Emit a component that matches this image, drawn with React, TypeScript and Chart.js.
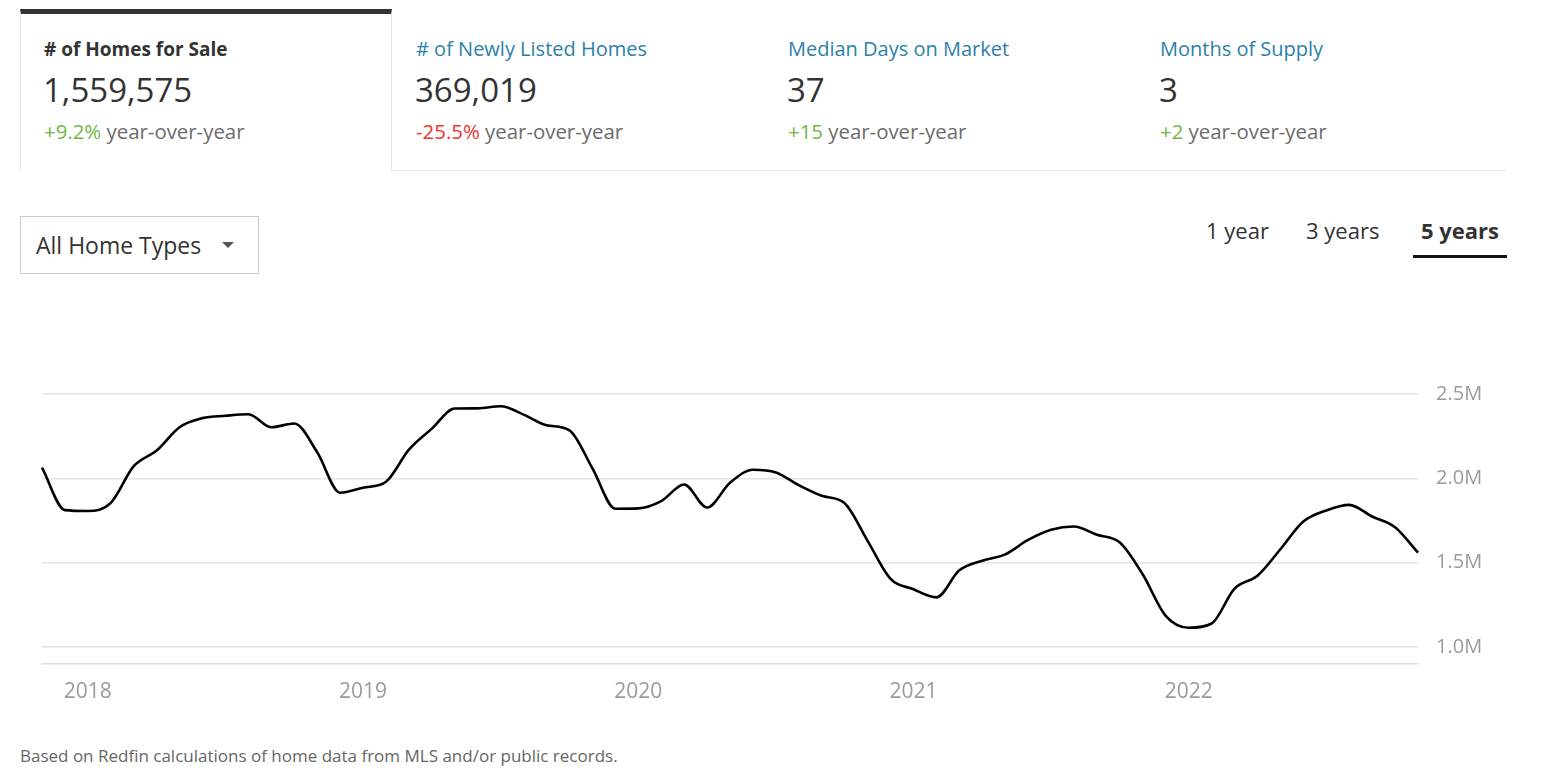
import React, { useEffect, useRef } from "react";
import { Chart, registerables } from "chart.js";

Chart.register(...registerables);

// ---- data ----
const months: string[] = [
  "2017-11", "2017-12",
  "2018-01", "2018-02", "2018-03", "2018-04", "2018-05", "2018-06", "2018-07", "2018-08", "2018-09", "2018-10", "2018-11", "2018-12",
  "2019-01", "2019-02", "2019-03", "2019-04", "2019-05", "2019-06", "2019-07", "2019-08", "2019-09", "2019-10", "2019-11", "2019-12",
  "2020-01", "2020-02", "2020-03", "2020-04", "2020-05", "2020-06", "2020-07", "2020-08", "2020-09", "2020-10", "2020-11", "2020-12",
  "2021-01", "2021-02", "2021-03", "2021-04", "2021-05", "2021-06", "2021-07", "2021-08", "2021-09", "2021-10", "2021-11", "2021-12",
  "2022-01", "2022-02", "2022-03", "2022-04", "2022-05", "2022-06", "2022-07", "2022-08", "2022-09", "2022-10", "2022-11",
];

const homesForSale: number[] = [
  2063000, 1812000, 1807000, 1855000, 2072000, 2165000, 2303000, 2357000, 2371000, 2380000,
  2303000, 2325000, 2155000, 1915000, 1945000, 1980000, 2170000, 2295000, 2414000, 2415000,
  2427000, 2378000, 2315000, 2285000, 2060000, 1820000, 1822000, 1865000, 1964000, 1827000,
  1974000, 2051000, 2035000, 1960000, 1897000, 1853000, 1630000, 1405000, 1343000, 1295000,
  1455000, 1512000, 1550000, 1635000, 1695000, 1715000, 1666000, 1620000, 1430000, 1185000,
  1115000, 1140000, 1347000, 1423000, 1580000, 1744000, 1810000, 1843000, 1774000, 1710000,
  1559575,
];

const yTickValues: number[] = [1000000, 1500000, 2000000, 2500000];

const tabTitles: string[] = ["# of Homes for Sale", "# of Newly Listed Homes", "Median Days on Market", "Months of Supply"];
const tabValues: string[] = ["1,559,575", "369,019", "37", "3"];
const tabChanges: string[] = ["+9.2%", "-25.5%", "+15", "+2"];
const tabChangeUp: boolean[] = [true, false, true, true];

const periods: string[] = ["1 year", "3 years", "5 years"];

const FONT = "'Open Sans', 'Liberation Sans', sans-serif";

function LineChart() {
  const ref = useRef<HTMLCanvasElement | null>(null);
  useEffect(() => {
    if (!ref.current) return;
    const chart = new Chart(ref.current, {
      type: "line",
      data: {
        labels: months,
        datasets: [
          {
            data: homesForSale,
            borderColor: "#000000",
            borderWidth: 2.6,
            pointRadius: 0,
            pointHoverRadius: 0,
            fill: false,
            cubicInterpolationMode: "monotone",
          },
        ],
      },
      options: {
        animation: false,
        responsive: true,
        maintainAspectRatio: false,
        layout: { padding: { top: 10, left: 0, right: 0, bottom: 0 } },
        plugins: { legend: { display: false }, tooltip: { enabled: false } },
        scales: {
          x: {
            type: "category",
            offset: false,
            grid: { display: false, drawTicks: false },
            border: { display: true, color: "#e0e0e0", width: 1.5 },
            ticks: {
              autoSkip: false,
              maxRotation: 0,
              minRotation: 0,
              padding: 15,
              color: "#9a9a9a",
              font: { family: FONT, size: 21 },
              callback: (_v: any, i: number) => {
                const l = months[i];
                return l.endsWith("-01") ? l.slice(0, 4) : "";
              },
            },
            afterFit: (s: any) => {
              s.height = 48;
            },
          },
          y: {
            position: "right",
            min: 900000,
            max: 2500000,
            afterBuildTicks: (s: any) => {
              s.ticks = yTickValues.map((v) => ({ value: v }));
            },
            grid: { color: "#e3e3e3", lineWidth: 1.5, drawTicks: false },
            border: { display: false },
            ticks: {
              padding: 18,
              color: "#9a9a9a",
              font: { family: FONT, size: 20 },
              callback: (v: any) => (Number(v) / 1000000).toFixed(1) + "M",
            },
            afterFit: (s: any) => {
              s.width = 102;
            },
          },
        },
      } as any,
    });
    return () => chart.destroy();
  }, []);
  return <canvas ref={ref} />;
}

export default function App() {
  return (
    <div
      style={{
        position: "absolute",
        left: 0,
        top: 0,
        width: 1558,
        height: 771,
        background: "#fff",
        fontFamily: FONT,
        overflow: "hidden",
        color: "#333",
      }}
    >
      {/* active tab box */}
      <div
        style={{
          position: "absolute",
          left: 20,
          top: 9,
          width: 372,
          height: 162,
          boxSizing: "border-box",
          borderTop: "5px solid #333",
          borderLeft: "1px solid #e4e4e4",
          borderRight: "1px solid #e4e4e4",
        }}
      />
      <div style={{ position: "absolute", left: 391, top: 170, width: 1115, height: 1, background: "#e4e4e4" }} />

      {tabTitles.map((t, i) => (
        <React.Fragment key={t}>
          <div
            style={{
              position: "absolute",
              left: 44 + 372 * i,
              top: 39,
              fontSize: i === 0 ? 19 : 20,
              lineHeight: "20px",
              whiteSpace: "nowrap",
              fontWeight: i === 0 ? 700 : 400,
              color: i === 0 ? "#333" : "#2b7fab",
            }}
          >
            {t}
          </div>
          <div
            style={{
              position: "absolute",
              left: 43 + 372 * i,
              top: 73,
              fontSize: 33,
              lineHeight: "33px",
              whiteSpace: "nowrap",
              color: "#333",
            }}
          >
            {tabValues[i]}
          </div>
          <div
            style={{
              position: "absolute",
              left: 44 + 372 * i,
              top: 121,
              fontSize: 20.4,
              lineHeight: "21px",
              whiteSpace: "nowrap",
              color: "#6b6b6b",
            }}
          >
            <span style={{ color: tabChangeUp[i] ? "#71b545" : "#f2342c" }}>{tabChanges[i]}</span> year-over-year
          </div>
        </React.Fragment>
      ))}

      {/* dropdown */}
      <div
        style={{
          position: "absolute",
          left: 20,
          top: 216,
          width: 239,
          height: 58,
          boxSizing: "border-box",
          border: "1px solid #cccccc",
        }}
      />
      <div
        style={{
          position: "absolute",
          left: 36,
          top: 234,
          fontSize: 23,
          lineHeight: "23px",
          whiteSpace: "nowrap",
          color: "#333",
        }}
      >
        All Home Types
      </div>
      <div
        style={{
          position: "absolute",
          left: 222,
          top: 242,
          width: 0,
          height: 0,
          borderLeft: "6px solid transparent",
          borderRight: "6px solid transparent",
          borderTop: "6px solid #555",
        }}
      />

      {/* period selector */}
      {periods.map((p, i) => (
        <div
          key={p}
          style={{
            position: "absolute",
            left: [1206, 1306, 1421][i],
            top: 219,
            fontSize: 22,
            lineHeight: "22px",
            whiteSpace: "nowrap",
            fontWeight: i === 2 ? 700 : 400,
            color: "#333",
          }}
        >
          {p}
        </div>
      ))}
      <div style={{ position: "absolute", left: 1413, top: 255, width: 94, height: 3, background: "#111" }} />

      {/* chart */}
      <div style={{ position: "absolute", left: 27, top: 364, width: 1493, height: 348 }}>
        <LineChart />
      </div>

      {/* footer */}
      <div
        style={{
          position: "absolute",
          left: 20,
          top: 747,
          fontSize: 17,
          lineHeight: "17px",
          whiteSpace: "nowrap",
          color: "#666",
        }}
      >
        Based on Redfin calculations of home data from MLS and/or public records.
      </div>
    </div>
  );
}
